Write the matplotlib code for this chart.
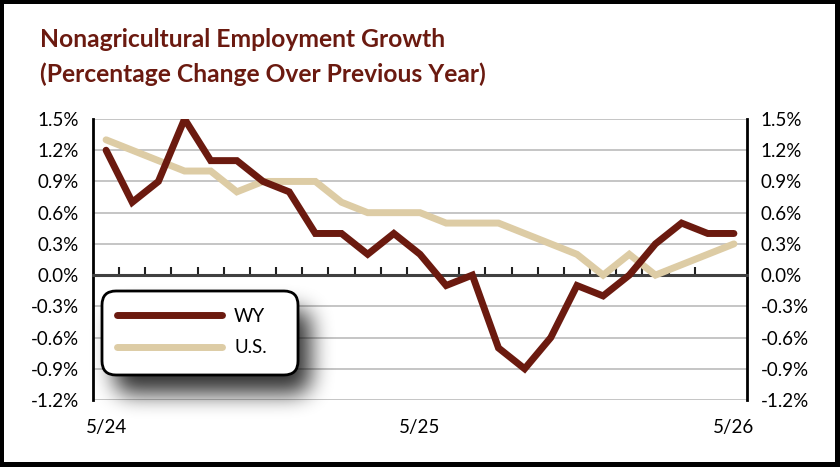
import matplotlib
matplotlib.use("Agg")
import matplotlib.pyplot as plt
from matplotlib.patches import FancyBboxPatch
import numpy as np

plt.rcParams['font.family'] = ['Lato', 'DejaVu Sans']

# monthly data, 5/24 .. 5/26
months = ["5/24", "6/24", "7/24", "8/24", "9/24", "10/24", "11/24", "12/24",
          "1/25", "2/25", "3/25", "4/25", "5/25", "6/25", "7/25", "8/25",
          "9/25", "10/25", "11/25", "12/25", "1/26", "2/26", "3/26", "4/26", "5/26"]
wy = [1.2, 0.7, 0.9, 1.5, 1.1, 1.1, 0.9, 0.8, 0.4, 0.4, 0.2, 0.4, 0.2,
      -0.1, 0.0, -0.7, -0.9, -0.6, -0.1, -0.2, 0.0, 0.3, 0.5, 0.4, 0.4]
us = [1.3, 1.2, 1.1, 1.0, 1.0, 0.8, 0.9, 0.9, 0.9, 0.7, 0.6, 0.6, 0.6,
      0.5, 0.5, 0.5, 0.4, 0.3, 0.2, 0.0, 0.2, 0.0, 0.1, 0.2, 0.3]
xlabels = {0: "5/24", 12: "5/25", 24: "5/26"}
yticks = [-1.2, -0.9, -0.6, -0.3, 0.0, 0.3, 0.6, 0.9, 1.2, 1.5]

W, H = 840, 467
wy_color = "#6b1a0f"
us_color = "#ddcca5"
title_color = "#6b1a10"

fig = plt.figure(figsize=(W / 100, H / 100), dpi=100)
fig.patch.set_facecolor("black")

# white page inside black frame
bg = fig.add_axes([4 / W, 5 / H, 831 / W, 458 / H], zorder=-1)
bg.set_facecolor("white")
bg.set_xticks([]); bg.set_yticks([])
for s in bg.spines.values():
    s.set_visible(False)

ax = fig.add_axes([93 / W, 67 / H, 654 / W, 281 / H], zorder=1)
ax.patch.set_alpha(0)
x = np.arange(len(months))
l1, = ax.plot(x, wy, color=wy_color, lw=5, solid_capstyle="round",
              solid_joinstyle="miter", zorder=4)
l2, = ax.plot(x, us, color=us_color, lw=5, solid_capstyle="round",
              solid_joinstyle="miter", zorder=3)

ax.set_xlim(-0.5, len(months) - 0.5)
ax.set_ylim(-1.2, 1.5)
ax.set_yticks(yticks)
ax.set_yticklabels([f"{v:.1f}%" for v in yticks])
ax.yaxis.grid(True, color="#c0c0c0", lw=1.3)
ax.set_axisbelow(True)
ax.tick_params(axis="y", length=0, labelsize=13.5, pad=10,
               labelleft=True, labelright=True)

ax.spines["top"].set_visible(False)
ax.spines["left"].set_linewidth(2)
ax.spines["right"].set_linewidth(2)
ax.spines["bottom"].set_position(("data", 0))
ax.spines["bottom"].set_color("#404040")
ax.spines["bottom"].set_linewidth(2.2)
ax.set_xticks(np.arange(1, len(months) - 1) - 0.5)
ax.tick_params(axis="x", direction="in", length=6, width=1.5,
               color="#202020", labelbottom=False)

sec = ax.secondary_xaxis("bottom")
sec.set_xticks(list(xlabels.keys()))
sec.set_xticklabels(list(xlabels.values()))
sec.tick_params(length=0, labelsize=13.5, pad=14)
sec.spines["bottom"].set_visible(False)

# titles
fig.text(40 / W, 1 - 47 / H, "Nonagricultural Employment Growth",
         fontsize=17.7, fontweight="bold", color=title_color, va="baseline")
fig.text(40 / W, 1 - 82 / H, "(Percentage Change Over Previous Year)",
         fontsize=17.7, fontweight="bold", color=title_color, va="baseline")

# legend box with soft shadow, pixel coords
ov = fig.add_axes([0, 0, 1, 1], zorder=2)
ov.patch.set_alpha(0)
ov.axis("off")

yy, xx = np.mgrid[0:H, 0:W]
def rrect(x0, y0, x1, y1, r):
    cx = np.clip(xx, x0 + r, x1 - r)
    cy = np.clip(yy, y0 + r, y1 - r)
    return (((xx - cx) ** 2 + (yy - cy) ** 2) <= r * r).astype(float)

def box_blur(a, r):
    for axis in (0, 1):
        pw = [(r + 1, r) if k == axis else (0, 0) for k in (0, 1)]
        c = np.cumsum(np.pad(a, pw), axis=axis)
        if axis == 0:
            a = (c[2 * r + 1:] - c[:-2 * r - 1]) / (2 * r + 1)
        else:
            a = (c[:, 2 * r + 1:] - c[:, :-2 * r - 1]) / (2 * r + 1)
    return a

bx0, by0, bx1, by1 = 102, 291, 298, 375
sh = rrect(bx0 + 12, by0 + 18, bx1 + 12, by1 + 18, 14)
for _ in range(3):
    sh = box_blur(sh, 10)
img = np.zeros((H, W, 4))
img[..., 3] = sh * 0.8
ov.imshow(img, extent=(0, W, H, 0), aspect="auto", zorder=1)
ov.add_patch(FancyBboxPatch((bx0, by0), bx1 - bx0, by1 - by0,
                            boxstyle="round,pad=0,rounding_size=14",
                            facecolor="white", edgecolor="black", lw=2, zorder=2))
ov.set_xlim(0, W)
ov.set_ylim(H, 0)

fig.legend(handles=[l1, l2], labels=["WY", "U.S."], loc="upper left",
           bbox_to_anchor=(117 / W, 1 - 308 / H), frameon=False,
           handlelength=5.6, handletextpad=0.65, labelspacing=0.75,
           borderpad=0, borderaxespad=0, fontsize=13.5)

fig.savefig("out.png", dpi=100, facecolor=fig.get_facecolor())
